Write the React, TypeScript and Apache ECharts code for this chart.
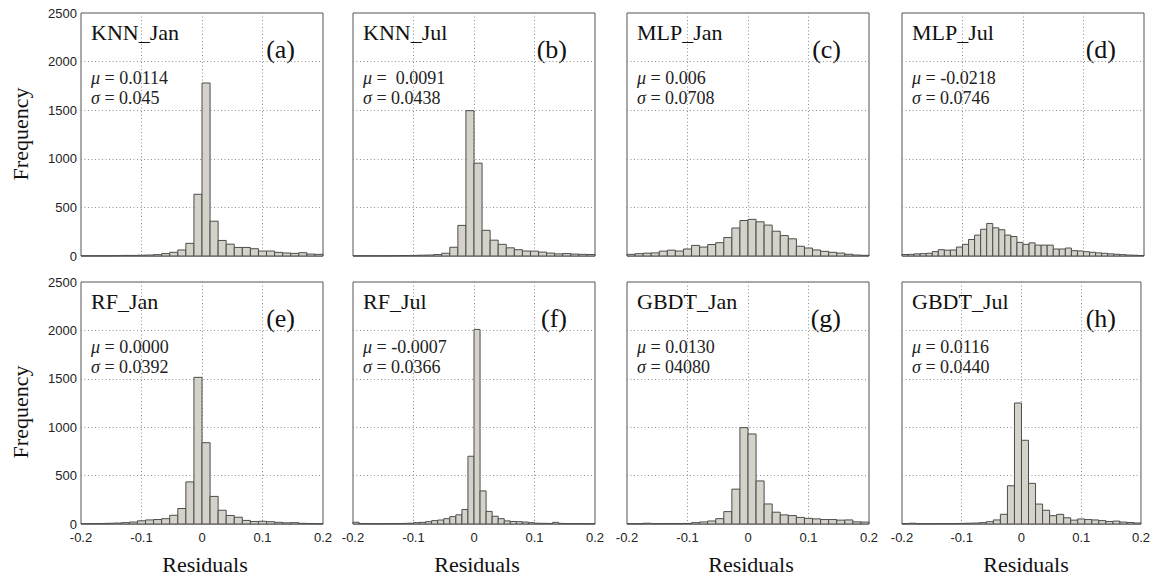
import { useEffect, useRef } from 'react';
import * as echarts from 'echarts';

// Histogram range shared by every panel
const RANGE_MIN = -0.2;
const RANGE_MAX = 0.2;

// Bin counts per panel (frequency of residuals in equal-width bins over [-0.2, 0.2])
const knnJan = [2, 2, 3, 3, 4, 6, 6, 8, 10, 14, 25, 38, 62, 130, 635, 1780, 358, 160, 122, 88, 88, 75, 51, 51, 37, 31, 27, 34, 20, 17];
const knnJul = [2, 2, 2, 2, 3, 4, 5, 6, 8, 10, 15, 28, 90, 315, 1495, 955, 264, 163, 120, 84, 65, 51, 50, 40, 30, 22, 25, 20, 17, 15];
const mlpJan = [17, 24, 29, 32, 50, 60, 51, 72, 109, 92, 118, 137, 190, 288, 365, 377, 352, 318, 255, 210, 177, 100, 82, 62, 48, 38, 30, 18, 10, 7];
const mlpJul = [15, 17, 22, 24, 28, 45, 65, 60, 62, 92, 120, 170, 215, 275, 335, 290, 270, 215, 200, 140, 120, 135, 112, 112, 112, 72, 72, 82, 55, 52, 44, 38, 32, 28, 22, 18, 14, 10, 8, 5];
const rfJan = [3, 4, 5, 7, 10, 14, 20, 33, 42, 46, 55, 90, 160, 435, 1515, 840, 285, 142, 88, 70, 37, 26, 28, 24, 17, 12, 14, 7, 5, 3];
const rfJul = [18, 5, 4, 3, 3, 4, 4, 5, 6, 8, 14, 17, 24, 35, 41, 55, 76, 95, 150, 700, 2010, 342, 130, 80, 55, 32, 26, 24, 20, 14, 8, 7, 6, 17, 6, 5, 4, 4, 3, 3];
const gbdtJan = [3, 3, 8, 4, 4, 5, 5, 6, 14, 21, 31, 55, 128, 360, 995, 930, 445, 207, 122, 94, 87, 68, 58, 53, 46, 46, 40, 42, 22, 20];
const gbdtJul = [4, 8, 3, 3, 3, 4, 4, 5, 6, 8, 10, 14, 24, 42, 100, 395, 1250, 865, 420, 206, 142, 86, 100, 64, 40, 52, 46, 42, 35, 26, 30, 20, 15, 10];

const panelCounts = [knnJan, knnJul, mlpJan, mlpJul, rfJan, rfJul, gbdtJan, gbdtJul];
const panelNames = ['KNN_Jan', 'KNN_Jul', 'MLP_Jan', 'MLP_Jul', 'RF_Jan', 'RF_Jul', 'GBDT_Jan', 'GBDT_Jul'];
const panelTags = ['(a)', '(b)', '(c)', '(d)', '(e)', '(f)', '(g)', '(h)'];
const muLabels = ['0.0114', ' 0.0091', '0.006', '-0.0218', '0.0000', '-0.0007', '0.0130', '0.0116'];
const sigmaLabels = ['0.045', '0.0438', '0.0708', '0.0746', '0.0392', '0.0366', '04080', '0.0440'];

const yMax = 2500;
const yStep = 500;
const xStep = 0.1;

const axisTitleX = 'Residuals';
const axisTitleY = 'Frequency';

// Layout of the 2 x 4 panel grid
const COL_LEFT = [81, 353, 627, 902];
const ROW_TOP = [13, 282];
const PANEL_W = 242;
const PANEL_H = [243, 242];

const SERIF = '"Liberation Serif", "Times New Roman", serif';
const SANS = '"Liberation Sans", Arial, sans-serif';
const BAR_FILL = '#d5d2ca';
const BAR_EDGE = '#4d4d4d';

function binRows(counts: number[]) {
  const n = counts.length;
  const w = (RANGE_MAX - RANGE_MIN) / n;
  return counts.map((c, i) => [RANGE_MIN + i * w, RANGE_MIN + (i + 1) * w, c]);
}

export default function App() {
  const ref = useRef<HTMLDivElement>(null);

  useEffect(() => {
    if (!ref.current) return;
    const chart = echarts.init(ref.current, null, { renderer: 'svg' });

    const grids: any[] = [];
    const xAxes: any[] = [];
    const yAxes: any[] = [];
    const series: any[] = [];
    const graphics: any[] = [];

    panelCounts.forEach((counts, idx) => {
      const row = Math.floor(idx / 4);
      const col = idx % 4;
      const left = COL_LEFT[col];
      const top = ROW_TOP[row];
      const h = PANEL_H[row];

      grids.push({
        left,
        top,
        width: PANEL_W,
        height: h,
        show: true,
        borderColor: '#555555',
        borderWidth: 1,
        backgroundColor: '#ffffff',
      });

      xAxes.push({
        type: 'value',
        gridIndex: idx,
        min: RANGE_MIN,
        max: RANGE_MAX,
        interval: xStep,
        axisLine: { show: false },
        axisTick: { show: false },
        axisLabel: {
          show: row === 1,
          fontFamily: SANS,
          fontSize: 13,
          color: '#222',
          margin: 7,
          formatter: (v: number) => String(Math.round(v * 10) / 10),
        },
        splitLine: {
          show: true,
          showMinLine: false,
          showMaxLine: false,
          lineStyle: { color: '#8f8f8f', type: [1, 2.5], width: 1 },
        },
      });

      yAxes.push({
        type: 'value',
        gridIndex: idx,
        min: 0,
        max: yMax,
        interval: yStep,
        axisLine: { show: false },
        axisTick: { show: false },
        axisLabel: {
          show: col === 0,
          fontFamily: SANS,
          fontSize: 13,
          color: '#222',
          margin: 4,
          formatter: (v: number) => String(v),
        },
        splitLine: {
          show: true,
          showMinLine: false,
          showMaxLine: false,
          lineStyle: { color: '#8f8f8f', type: [1, 2.5], width: 1 },
        },
      });

      series.push({
        type: 'custom',
        xAxisIndex: idx,
        yAxisIndex: idx,
        data: binRows(counts),
        encode: { x: [0, 1], y: 2 },
        renderItem: (_params: any, api: any) => {
          const p0 = api.coord([api.value(0), api.value(2)]);
          const p1 = api.coord([api.value(1), 0]);
          return {
            type: 'rect',
            shape: { x: p0[0], y: p0[1], width: p1[0] - p0[0], height: p1[1] - p0[1] },
            style: { fill: BAR_FILL, stroke: BAR_EDGE, lineWidth: 1 },
          };
        },
      });

      // Panel annotations
      graphics.push({
        type: 'text',
        x: left + 10,
        y: top + 19,
        style: { text: panelNames[idx], font: `22px ${SERIF}`, fill: '#111', verticalAlign: 'middle', align: 'left' },
      });
      graphics.push({
        type: 'text',
        x: left + PANEL_W - 28,
        y: top + 36,
        style: { text: panelTags[idx], font: `26px ${SERIF}`, fill: '#111', verticalAlign: 'middle', align: 'right' },
      });
      graphics.push({
        type: 'text',
        x: left + 10,
        y: top + 65,
        style: {
          text: `{i|μ} = ${muLabels[idx]}`,
          font: `18px ${SERIF}`,
          fill: '#222',
          verticalAlign: 'middle',
          align: 'left',
          rich: { i: { fontStyle: 'italic', fontFamily: SERIF, fontSize: 18, fill: '#222' } },
        },
      });
      graphics.push({
        type: 'text',
        x: left + 10,
        y: top + 85,
        style: {
          text: `{i|σ} = ${sigmaLabels[idx]}`,
          font: `18px ${SERIF}`,
          fill: '#222',
          verticalAlign: 'middle',
          align: 'left',
          rich: { i: { fontStyle: 'italic', fontFamily: SERIF, fontSize: 18, fill: '#222' } },
        },
      });

      if (row === 1) {
        graphics.push({
          type: 'text',
          x: left + PANEL_W / 2 + 3,
          y: 564,
          style: { text: axisTitleX, font: `22px ${SERIF}`, fill: '#111', align: 'center', verticalAlign: 'middle' },
        });
      }
      if (col === 0) {
        graphics.push({
          type: 'text',
          x: 20,
          y: row === 0 ? 134 : 412,
          rotation: Math.PI / 2,
          style: { text: axisTitleY, font: `22px ${SERIF}`, fill: '#111', align: 'center', verticalAlign: 'middle' },
        });
      }
    });

    chart.setOption({
      animation: false,
      backgroundColor: '#ffffff',
      grid: grids,
      xAxis: xAxes,
      yAxis: yAxes,
      series,
      graphic: graphics,
    });

    return () => chart.dispose();
  }, []);

  return (
    <div
      ref={ref}
      style={{ position: 'fixed', left: 0, top: 0, width: 1153, height: 576, background: '#fff' }}
    />
  );
}
